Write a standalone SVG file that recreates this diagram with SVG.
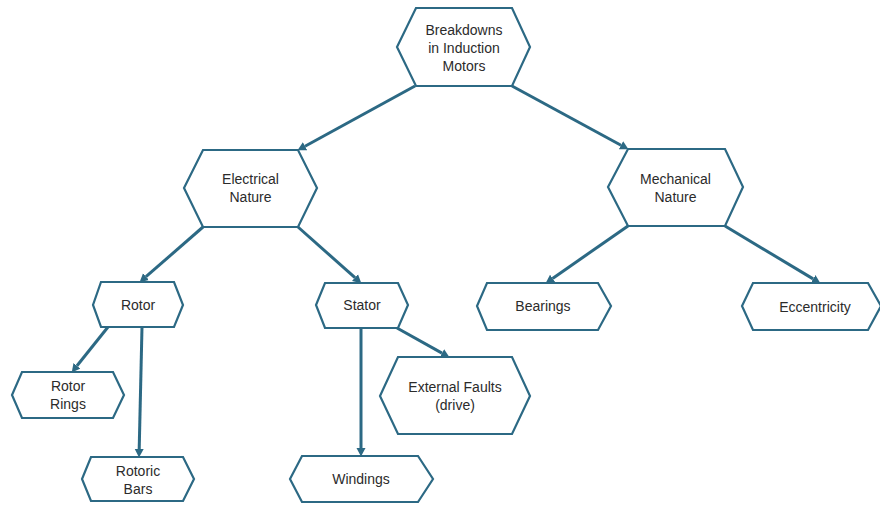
<svg xmlns="http://www.w3.org/2000/svg" width="880" height="505" viewBox="0 0 880 505">
  <defs>
    <marker id="arrow" markerUnits="userSpaceOnUse" markerWidth="10" markerHeight="10" viewBox="0 -5 10 10" refX="0" refY="0" orient="auto">
      <path d="M0,-4.5 L8.5,0 L0,4.5 z" fill="#2c6984"/>
    </marker>
  </defs>
  <style>
    .hex { fill: #ffffff; stroke: #2c6984; stroke-width: 2.2; stroke-linejoin: miter; }
    .lbl { font-family: "Liberation Sans", Arial, sans-serif; font-size: 14px; fill: #2b2b2b; text-anchor: middle; }
    .edge { stroke: #2c6984; stroke-width: 3; fill: none; marker-end: url(#arrow); }
  </style>
  <rect width="880" height="505" fill="#ffffff"/>

  <g id="connectors">
    <line class="edge" x1="415" y1="86" x2="305.0" y2="146.2"/>
    <line class="edge" x1="512" y1="86" x2="621.0" y2="145.2"/>
    <line class="edge" x1="203" y1="227" x2="146.0" y2="276.7"/>
    <line class="edge" x1="298" y1="227" x2="355.0" y2="277.7"/>
    <line class="edge" x1="628" y1="226" x2="552.6" y2="278.4"/>
    <line class="edge" x1="725" y1="226" x2="813.1" y2="278.9"/>
    <line class="edge" x1="108" y1="327" x2="77" y2="365.8"/>
    <line class="edge" x1="142" y1="327" x2="139.2" y2="449"/>
    <line class="edge" x1="361" y1="328" x2="361" y2="448"/>
    <line class="edge" x1="397" y1="328" x2="442" y2="353.1"/>
  </g>

  <g id="root">
    <polygon class="hex" points="416,8 512,8 530,47 512,86 416,86 397,47"/>
    <text class="lbl" x="464" y="35">Breakdowns</text>
    <text class="lbl" x="464" y="53">in Induction</text>
    <text class="lbl" x="464" y="71">Motors</text>
  </g>

  <g id="electrical">
    <polygon class="hex" points="203,150 298,150 317,188 298,227 203,227 184,188"/>
    <text class="lbl" x="250.5" y="184">Electrical</text>
    <text class="lbl" x="250.5" y="202">Nature</text>
  </g>

  <g id="mechanical">
    <polygon class="hex" points="628,149 725,149 743,187 725,226 628,226 608,187"/>
    <text class="lbl" x="675.5" y="184">Mechanical</text>
    <text class="lbl" x="675.5" y="202">Nature</text>
  </g>

  <g id="rotor">
    <polygon class="hex" points="101,282 174,282 183,305 174,327 101,327 93,305"/>
    <text class="lbl" x="138" y="310">Rotor</text>
  </g>

  <g id="stator">
    <polygon class="hex" points="325,283 398,283 408,305 398,328 325,328 316,305"/>
    <text class="lbl" x="362" y="310">Stator</text>
  </g>

  <g id="bearings">
    <polygon class="hex" points="487,283 598,283 611,306 598,330 487,330 477,306"/>
    <text class="lbl" x="543" y="311">Bearings</text>
  </g>

  <g id="eccentricity">
    <polygon class="hex" points="753,283 868,283 881,306 868,330 753,330 742,306"/>
    <text class="lbl" x="815" y="312">Eccentricity</text>
  </g>

  <g id="rotor-rings">
    <polygon class="hex" points="22,372 113,372 124,395 113,418 22,418 12,395"/>
    <text class="lbl" x="68" y="391">Rotor</text>
    <text class="lbl" x="68" y="409">Rings</text>
  </g>

  <g id="rotoric-bars">
    <polygon class="hex" points="91,457 183,457 194,479 183,501 91,501 82,479"/>
    <text class="lbl" x="138" y="476">Rotoric</text>
    <text class="lbl" x="138" y="494">Bars</text>
  </g>

  <g id="external-faults">
    <polygon class="hex" points="398,357 512,357 530,396 512,434 398,434 380,396"/>
    <text class="lbl" x="455" y="392">External Faults</text>
    <text class="lbl" x="455" y="410">(drive)</text>
  </g>

  <g id="windings">
    <polygon class="hex" points="302,456 418,456 433,479 418,502 302,502 290,479"/>
    <text class="lbl" x="361" y="484">Windings</text>
  </g>
</svg>
